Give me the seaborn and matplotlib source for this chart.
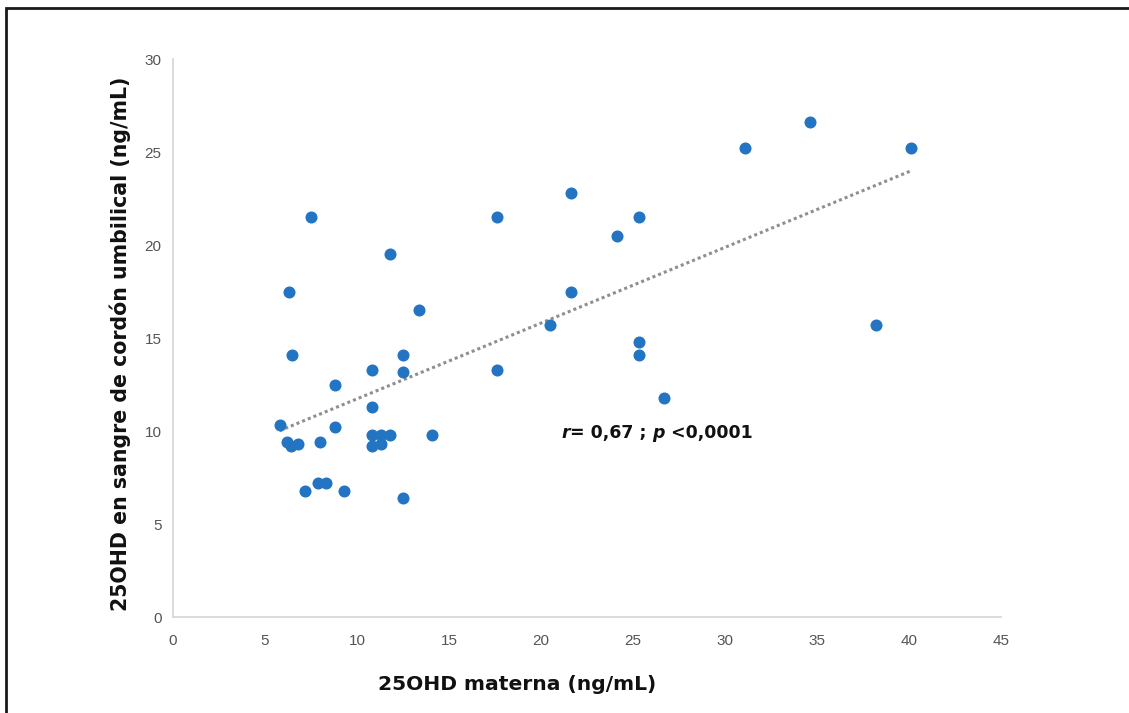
#!/usr/bin/env python
# -*- coding: utf-8 -*-

import numpy as np
import pandas as pd
import seaborn as sns
import matplotlib
matplotlib.use("Agg")
import matplotlib.pyplot as plt
from matplotlib.patches import Rectangle
from matplotlib.offsetbox import TextArea, HPacker, AnnotationBbox

# 25OHD materna (ng/mL)
materna = [5.8, 6.2, 6.4, 6.8, 6.3, 6.5, 7.5, 7.2, 7.9, 8.3, 8.0, 8.8, 8.8,
           9.3, 10.8, 10.8, 10.8, 10.8, 11.3, 11.3, 11.8, 11.8, 12.5, 12.5,
           12.5, 13.35, 14.1, 17.6, 17.6, 20.5, 21.6, 21.6, 24.1, 25.3, 25.3,
           25.3, 26.7, 31.1, 34.6, 38.2, 40.1]
# 25OHD en sangre de cordon umbilical (ng/mL)
cordon = [10.3, 9.4, 9.2, 9.3, 17.5, 14.1, 21.5, 6.8, 7.2, 7.2, 9.4, 12.5, 10.2,
          6.8, 13.3, 11.3, 9.8, 9.2, 9.8, 9.3, 9.8, 19.5, 14.1, 13.2,
          6.4, 16.5, 9.8, 21.5, 13.3, 15.7, 22.8, 17.5, 20.5, 21.5, 14.8,
          14.1, 11.8, 25.2, 26.6, 15.7, 25.2]

x_ticks = [0, 5, 10, 15, 20, 25, 30, 35, 40, 45]
y_ticks = [0, 5, 10, 15, 20, 25, 30]

df = pd.DataFrame({"materna": materna, "cordon": cordon})

sns.set_style("white")
plt.rcParams["font.family"] = ["DejaVu Sans"]

fig = plt.figure(figsize=(11.29, 7.13), dpi=100)
ax = fig.add_axes([0.153, 0.1346, 0.734, 0.7826])

# linea de tendencia
sns.regplot(data=df, x="materna", y="cordon", ax=ax, scatter=False, ci=None,
            line_kws={"color": "#8f8f8f", "lw": 2.2, "linestyle": (0, (1, 1))})
sns.scatterplot(data=df, x="materna", y="cordon", ax=ax, s=75,
                color="#2474C4", edgecolor="#2474C4", linewidth=0, zorder=3)

ax.set_xlim(0, 45)
ax.set_ylim(0, 30)
ax.set_xticks(x_ticks)
ax.set_yticks(y_ticks)
ax.tick_params(axis="both", length=0, labelsize=11, labelcolor="#555555")
ax.tick_params(axis="x", pad=12)
ax.tick_params(axis="y", pad=8)
for lbl in ax.get_xticklabels() + ax.get_yticklabels():
    lbl.set_family("Liberation Sans")

for s in ["top", "right"]:
    ax.spines[s].set_visible(False)
for s in ["left", "bottom"]:
    ax.spines[s].set_color("#d9d9d9")
    ax.spines[s].set_linewidth(1.3)

ax.set_xlabel("25OHD materna (ng/mL)", fontsize=14.6, fontweight="bold", color="#111111")
ax.set_ylabel("25OHD en sangre de cordón umbilical (ng/mL)", fontsize=14.8,
              fontweight="bold", color="#111111")
ax.xaxis.set_label_coords(0.415, -0.103)
ax.yaxis.set_label_coords(-0.05, 0.49)

# anotacion r / p
tp_it = dict(fontsize=12.5, fontweight="bold", style="italic", color="#111111")
tp = dict(fontsize=12.5, fontweight="bold", color="#111111")
box = HPacker(children=[TextArea("r", textprops=tp_it),
                        TextArea("= 0,67 ; ", textprops=tp),
                        TextArea("p", textprops=tp_it),
                        TextArea(" <0,0001", textprops=tp)],
              align="baseline", pad=0, sep=0)
ab = AnnotationBbox(box, (21.1, 9.9), xycoords="data", box_alignment=(0, 0.5),
                    frameon=False, pad=0)
ax.add_artist(ab)

# marco exterior
fig.patches.append(Rectangle((6 / 1129, -0.1), 1.2, 1.1 - 8 / 713,
                             transform=fig.transFigure, fill=False,
                             lw=2, ec="#1a1a1a"))

plt.savefig("out.png", dpi=100)
plt.close()
